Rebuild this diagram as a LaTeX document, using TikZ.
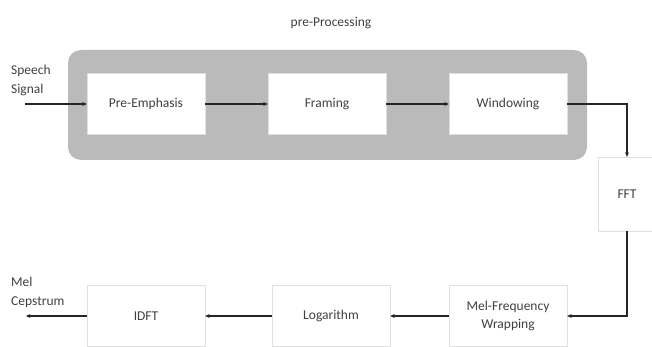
\documentclass[tikz,border=0pt]{standalone}
\usepackage{fontspec}
\setmainfont{Carlito}
\usepackage{tikz}
\usetikzlibrary{arrows.meta,positioning,calc}

\begin{document}
\begin{tikzpicture}[x=1pt,y=-1pt,
   	blk/.style={rectangle,draw=black!12,fill=white,inner sep=0pt,minimum width=118pt,minimum height=61pt,font=\fontsize{13.5}{18}\selectfont,text=black!75,align=center},
   	lbl/.style={inner sep=0pt,font=\fontsize{13.5}{19}\selectfont,text=black!75,align=left},
   	flow/.style={draw=black!85,line width=1.3pt,-{Stealth[length=4.5pt,width=4pt]}}]
   	\useasboundingbox (0,0) rectangle (652,347);
   	% pre-processing panel
   	\fill[black!27,rounded corners=13pt] (68,50) rectangle (587,160);
   	\node (pp) at (331,23) [lbl] {pre-Processing};
   	\path   (146,104) 	node  	(pe) [blk] {Pre-Emphasis}
   	        (327,104) 	node  	(fr) [blk] {Framing}
   	        (508,104) 	node  	(wi) [blk] {Windowing}
   	        (627,194) 	node  	(fft) [blk,minimum width=58pt,minimum height=74pt] {FFT}
   	        (508,316) 	node  	(mel) [blk] {Mel-Frequency\\Wrapping}
   	        (331,316) 	node  	(lg) [blk] {Logarithm}
   	        (146,316) 	node  	(idft) [blk] {IDFT};
   	\node (in) at (11,80) [lbl,anchor=west] {Speech\\Signal};
   	\node (out) at (11,292) [lbl,anchor=west] {Mel\\Cepstrum};
   	\coordinate (src) at (25,104);
   	\coordinate (dst) at (26,316);
   	\draw [flow] (src) -- (pe);
   	\draw [flow] (pe) -- (fr);
   	\draw [flow] (fr) -- (wi);
   	\draw [flow] (wi.east) -| (fft.north);
   	\draw [flow] (fft.south) |- (mel.east);
   	\draw [flow] (mel) -- (lg);
   	\draw [flow] (lg) -- (idft);
   	\draw [flow] (idft) -- (dst);
\end{tikzpicture}
\end{document}
